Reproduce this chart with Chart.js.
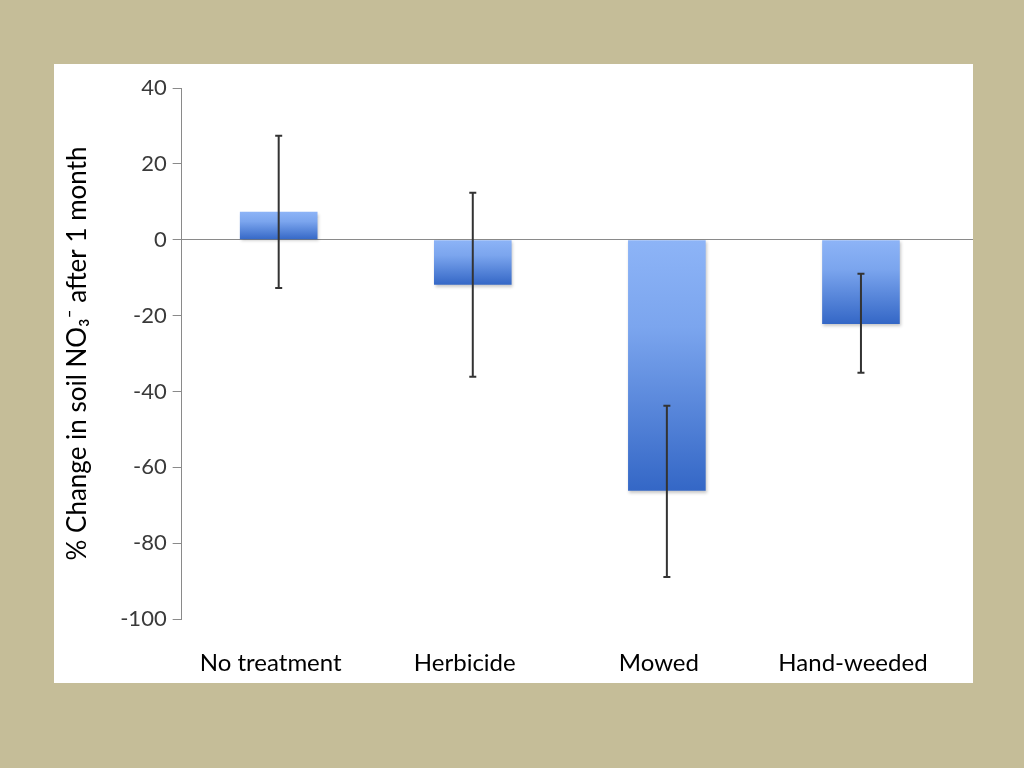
<!DOCTYPE html>
<html>
<head>
<meta charset="utf-8">
<script src="https://cdn.jsdelivr.net/npm/chart.js@4.4.1/dist/chart.umd.min.js"></script>
<style>
  html, body { margin: 0; padding: 0; }
  body { width: 1024px; height: 768px; background: #c5bd98; position: relative; overflow: hidden; }
  #panel { position: absolute; left: 54px; top: 64px; width: 919px; height: 619px; background: #ffffff; }
  #chart { display: block; }
</style>
</head>
<body>
<div id="panel"><canvas id="chart" width="919" height="619"></canvas></div>
<script>
// treatments and % change in soil nitrate after one month
const treatments = ['No treatment', 'Herbicide', 'Mowed', 'Hand-weeded'];
const meanChange = [7.4, -11.9, -66.2, -22.2];
const errUpper = [27.4, 12.4, -43.8, -9.0];
const errLower = [-12.7, -36.1, -88.9, -35.1];
const yTicks = [40, 20, 0, -20, -40, -60, -80, -100];

const axisGray = '#8a8a8a';

// light blue at the top of each bar, darker toward the bottom
function barGradient(context) {
  const chart = context.chart;
  const area = chart.chartArea;
  if (!area) return '#6a95e0';
  const y = chart.scales.y;
  const v = meanChange[context.dataIndex];
  const top = y.getPixelForValue(Math.max(v, 0));
  const bottom = y.getPixelForValue(Math.min(v, 0));
  const g = chart.ctx.createLinearGradient(0, top, 0, bottom);
  g.addColorStop(0, '#8db4f7');
  g.addColorStop(0.35, '#7ba5ee');
  g.addColorStop(1, '#3467c6');
  return g;
}

const errorBars = {
  id: 'errorBars',
  beforeDatasetsDraw(chart) {
    const ctx = chart.ctx;
    ctx.save();
    ctx.shadowColor = 'rgba(0,0,0,0.22)';
    ctx.shadowBlur = 3;
    ctx.shadowOffsetX = 1;
    ctx.shadowOffsetY = 2;
  },
  afterDatasetsDraw(chart) {
    const ctx = chart.ctx;
    ctx.restore();
    const x = chart.scales.x;
    const y = chart.scales.y;
    // zero line runs on to the panel edge (same pixel alignment as the grid)
    const y0 = Math.round(y.getPixelForValue(0) - 0.5) + 0.5;
    ctx.save();
    ctx.strokeStyle = axisGray;
    ctx.lineWidth = 1;
    ctx.beginPath();
    ctx.moveTo(chart.chartArea.right, y0);
    ctx.lineTo(chart.width, y0);
    ctx.stroke();

    ctx.strokeStyle = '#333333';
    ctx.lineWidth = 2;
    treatments.forEach((t, i) => {
      const cx = x.getPixelForValue(i);
      const yu = y.getPixelForValue(errUpper[i]);
      const yl = y.getPixelForValue(errLower[i]);
      ctx.beginPath();
      ctx.moveTo(cx, yu);
      ctx.lineTo(cx, yl);
      ctx.moveTo(cx - 3.5, yu);
      ctx.lineTo(cx + 3.5, yu);
      ctx.moveTo(cx - 3.5, yl);
      ctx.lineTo(cx + 3.5, yl);
      ctx.stroke();
    });
    ctx.restore();
  }
};

new Chart(document.getElementById('chart'), {
  type: 'bar',
  data: {
    labels: treatments,
    datasets: [{
      data: meanChange,
      backgroundColor: barGradient,
      borderWidth: 0,
      barPercentage: 0.4,
      categoryPercentage: 1.0
    }]
  },
  plugins: [errorBars],
  options: {
    responsive: false,
    animation: false,
    layout: { padding: { top: 24, right: 15, bottom: 6, left: 8 } },
    plugins: {
      legend: { display: false },
      tooltip: { enabled: false }
    },
    scales: {
      x: {
        grid: { display: false, drawTicks: false },
        border: { display: false },
        ticks: {
          color: '#000000',
          font: { family: 'Lato', size: 24 },
          padding: 30,
          labelOffset: -8,
          maxRotation: 0
        },
        afterFit(scale) {
          scale.height = 58;
        }
      },
      y: {
        min: -100,
        max: 40,
        afterBuildTicks(scale) {
          scale.ticks = yTicks.map(v => ({ value: v }));
        },
        grid: {
          drawOnChartArea: true,
          color: ctx => (ctx.tick && ctx.tick.value === 0 ? axisGray : 'rgba(0,0,0,0)'),
          tickColor: axisGray,
          tickLength: 9,
          lineWidth: 1
        },
        border: { display: true, color: axisGray, width: 1 },
        ticks: {
          color: '#3a3a3a',
          font: { family: 'Lato', size: 22 },
          padding: 6
        },
        title: {
          display: true,
          text: '% Change in soil NO\u2083\u207B after 1 month',
          color: '#000000',
          font: { family: 'Lato', size: 26 },
          padding: { top: 0, bottom: 21 }
        }
      }
    }
  }
});
</script>
</body>
</html>
